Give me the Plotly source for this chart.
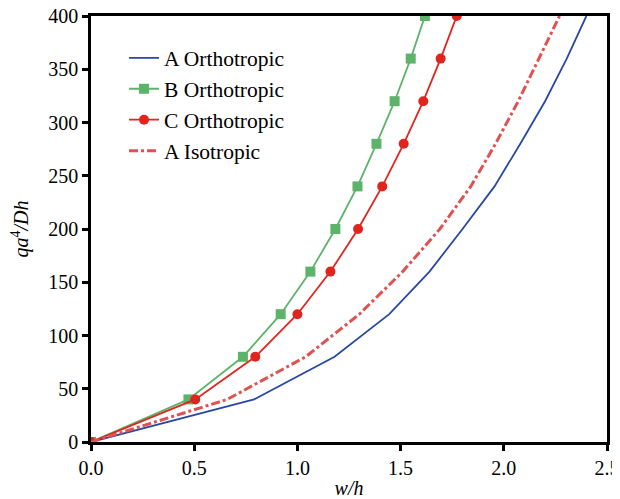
import plotly.graph_objects as go

q_vals = [0, 40, 80, 120, 160, 200, 240, 280, 320, 360, 400]
a_ortho_w = [0, 0.79, 1.18, 1.445, 1.64, 1.80, 1.955, 2.08, 2.20, 2.305, 2.40]
b_ortho_w = [0, 0.472, 0.736, 0.919, 1.063, 1.184, 1.291, 1.383, 1.471, 1.549, 1.618]
c_ortho_w = [0, 0.505, 0.796, 1.0, 1.16, 1.294, 1.411, 1.515, 1.61, 1.694, 1.772]
a_iso_w = [0, 0.66, 1.04, 1.30, 1.51, 1.69, 1.84, 1.96, 2.07, 2.17, 2.27]

x_ticks = [0, 0.5, 1.0, 1.5, 2.0, 2.5]
y_ticks = [0, 50, 100, 150, 200, 250, 300, 350, 400]

font = "Liberation Serif"
fs = 20

fig = go.Figure()
fig.add_trace(go.Scatter(x=a_ortho_w, y=q_vals, mode="lines", name="A Orthotropic",
                         legendgroup="a", line=dict(color="#2848a2", width=1.8)))
fig.add_trace(go.Scatter(x=b_ortho_w, y=q_vals, mode="lines+markers", name="B Orthotropic",
                         legendgroup="b", line=dict(color="#5db36a", width=1.8),
                         marker=dict(symbol="square", size=10, color="#5db36a")))
fig.add_trace(go.Scatter(x=c_ortho_w, y=q_vals, mode="lines+markers", name="C Orthotropic",
                         legendgroup="c", line=dict(color="#e0251e", width=1.8),
                         marker=dict(symbol="circle", size=10, color="#e0251e")))
fig.add_trace(go.Scatter(x=a_iso_w, y=q_vals, mode="lines", name="A Isotropic",
                         legendgroup="d", line=dict(color="#e05252", width=3, dash="dashdot")))

# page body has an 8px margin, so the figure is sized/offset to compensate
fig.update_layout(
    width=612, height=491,
    margin=dict(l=83, r=13, t=8, b=57, autoexpand=False),
    plot_bgcolor="white", paper_bgcolor="white",
    font=dict(family=font, size=fs, color="black"),
    showlegend=True,
    legend=dict(x=0.064, y=0.95, xanchor="left", yanchor="top",
                bgcolor="rgba(0,0,0,0)", font=dict(size=21.5, family=font, color="black"),
                tracegroupgap=0, itemwidth=30),
)
fig.update_xaxes(range=[0, 2.5], tickvals=x_ticks, ticktext=[f"{v:.1f}" for v in x_ticks],
                 automargin=False, ticklabeloverflow="allow",
                 tickfont=dict(family=font, size=fs, color="black"),
                 showgrid=False, zeroline=False, showline=True, linecolor="black", linewidth=2.5,
                 mirror=True, ticks="outside", ticklen=6, tickwidth=2.5, tickcolor="black",
                 title=dict(text="<i>w/h</i>", standoff=4, font=dict(family=font, size=fs, color="black")))
fig.update_yaxes(range=[0, 400], tickvals=y_ticks, automargin=False, ticklabeloverflow="allow",
                 tickfont=dict(family=font, size=fs, color="black"),
                 showgrid=False, zeroline=False, showline=True, linecolor="black", linewidth=2.5,
                 mirror=True, ticks="outside", ticklen=6, tickwidth=2.5, tickcolor="black",
                 title=dict(text="<i>qa</i><sup>4</sup><i>/Dh</i>", standoff=26,
                            font=dict(family=font, size=fs, color="black")))
fig.write_html("out.html")
